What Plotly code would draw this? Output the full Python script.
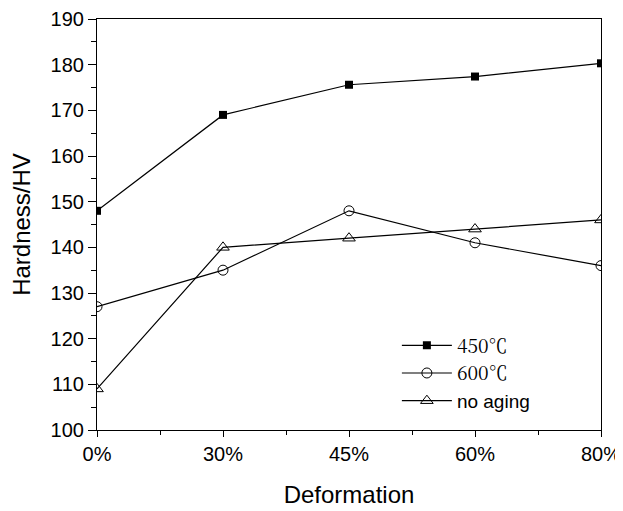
import plotly.graph_objects as go

categories = ["0%", "30%", "45%", "60%", "80%"]
hv_450 = [148, 169, 175.6, 177.4, 180.3]
hv_600 = [127, 135, 148, 141, 136]
hv_none = [109, 140, 142, 144, 146]
y_ticks = [100, 110, 120, 130, 140, 150, 160, 170, 180, 190]

xpos = list(range(len(categories)))
serif_style = "font-family:'Noto Serif CJK SC','DejaVu Serif',serif"

fig = go.Figure()
fig.add_trace(go.Scatter(x=xpos, y=hv_450, mode="lines+markers",
                         name=f"<span style=\"{serif_style}\">450℃</span>",
                         line=dict(color="black", width=1.2),
                         marker=dict(symbol="square", size=8, color="black")))
fig.add_trace(go.Scatter(x=xpos, y=hv_600, mode="lines+markers",
                         name=f"<span style=\"{serif_style}\">600℃</span>",
                         line=dict(color="black", width=1.2),
                         marker=dict(symbol="circle-open", size=10, color="black", line=dict(width=1))))
fig.add_trace(go.Scatter(x=xpos, y=hv_none, mode="lines+markers", name="no aging",
                         line=dict(color="black", width=1.2),
                         marker=dict(symbol="triangle-up-open", size=11, color="black", line=dict(width=1))))

tick_font = dict(family="Liberation Sans, Arial, sans-serif", size=20, color="black")
title_font = dict(family="Liberation Sans, Arial, sans-serif", size=24, color="black")

fig.update_layout(
    width=615, height=503,
    margin=dict(l=89, r=22, t=11, b=81, autoexpand=False),
    plot_bgcolor="white", paper_bgcolor="white",
    showlegend=True,
    legend=dict(x=0.595, y=0.252, xanchor="left", yanchor="top",
                bgcolor="rgba(0,0,0,0)",
                font=dict(family="Liberation Sans, Arial, sans-serif", size=19, color="black"),
                itemwidth=50, tracegroupgap=0),
    font=tick_font,
)
fig.update_xaxes(
    range=[0, 4], tickvals=xpos, ticktext=categories,
    showline=True, linecolor="black", linewidth=1.2, mirror=True,
    ticks="outside", ticklen=6, tickwidth=1, tickcolor="black",
    minor=dict(tickvals=[0.5, 1.5, 2.5, 3.5], ticks="outside", ticklen=4, tickcolor="black"),
    showgrid=False, zeroline=False, automargin=False,
    title=dict(text="Deformation", font=title_font, standoff=22),
    tickfont=tick_font,
)
fig.update_yaxes(
    range=[100, 190], tickvals=y_ticks,
    showline=True, linecolor="black", linewidth=1.2, mirror=True,
    ticks="outside", ticklen=8, tickwidth=1, tickcolor="black",
    minor=dict(dtick=5, ticks="outside", ticklen=5, tickcolor="black"),
    showgrid=False, zeroline=False, automargin=False,
    title=dict(text="Hardness/HV", font=title_font, standoff=26),
    tickfont=tick_font,
)
fig.write_html("out.html")
